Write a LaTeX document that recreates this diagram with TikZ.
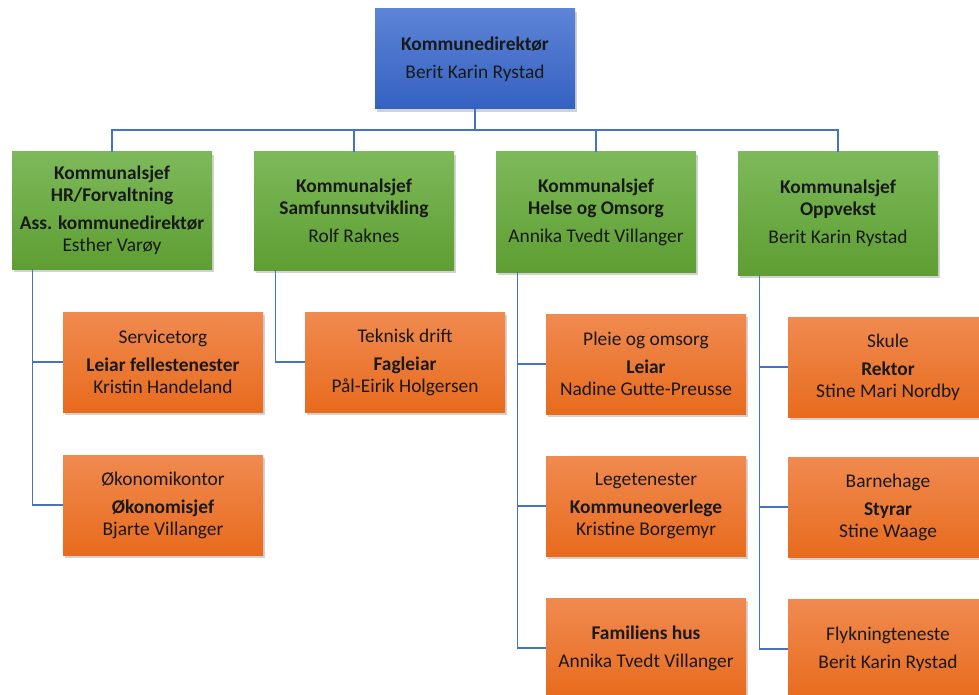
\documentclass[tikz,border=0pt]{standalone}
\usepackage{fontspec}
\setmainfont{Carlito}
\usetikzlibrary{shadows}
\definecolor{conncol}{HTML}{4472C4}
\definecolor{bluetop}{HTML}{5D84D6}
\definecolor{bluebot}{HTML}{3461C1}
\definecolor{greentop}{HTML}{7DB95A}
\definecolor{greenbot}{HTML}{5E9E32}
\definecolor{orangetop}{HTML}{F08A50}
\definecolor{orangebot}{HTML}{E86B1D}
\tikzset{
  box/.style={rectangle, minimum width=200pt, inner sep=0pt, align=center,
    font=\fontsize{19.4}{22}\selectfont, text=black!90,
    drop shadow={opacity=0.35, shadow xshift=2pt, shadow yshift=-3pt}},
  bluebox/.style={box, top color=bluetop, bottom color=bluebot, minimum height=100pt},
  greenbox/.style={box, top color=greentop, bottom color=greenbot},
  orangebox/.style={box, top color=orangetop, bottom color=orangebot, minimum height=100pt},
  conn/.style={draw=conncol, line width=1.3pt}
}
\begin{document}
\begin{tikzpicture}[x=1pt,y=-1pt]
\useasboundingbox (0,0) rectangle (979,695);
\clip (0,0) rectangle (979,695);
\fill[white] (0,0) rectangle (979,695);

% top
\node[bluebox] (top) at (475,59) {\textbf{Kommunedirektør}\\[6pt]Berit Karin Rystad};

% green
\node[greenbox, minimum height=117pt] (g1) at (112,210.5) {\textbf{Kommunalsjef}\\\textbf{HR/Forvaltning}\\[6pt]\textbf{Ass. kommunedirektør}\\Esther Varøy};
\node[greenbox, minimum height=118pt] (g2) at (354,211) {\textbf{Kommunalsjef}\\\textbf{Samfunnsutvikling}\\[6pt]Rolf Raknes};
\node[greenbox, minimum height=120pt] (g3) at (596,212) {\textbf{Kommunalsjef}\\\textbf{Helse og Omsorg}\\[6pt]Annika Tvedt Villanger};
\node[greenbox, minimum height=123pt] (g4) at (838,213.5) {\textbf{Kommunalsjef}\\\textbf{Oppvekst}\\[6pt]Berit Karin Rystad};

% orange col 1
\node[orangebox] (o11) at (163,362) {Servicetorg\\[6pt]\textbf{Leiar fellestenester}\\Kristin Handeland};
\node[orangebox] (o12) at (163,505) {Økonomikontor\\[6pt]\textbf{Økonomisjef}\\Bjarte Villanger};
% col 2
\node[orangebox] (o21) at (405,362) {Teknisk drift\\[6pt]\textbf{Fagleiar}\\Pål-Eirik Holgersen};
% col 3
\node[orangebox] (o31) at (646,364) {Pleie og omsorg\\[6pt]\textbf{Leiar}\\Nadine Gutte-Preusse};
\node[orangebox] (o32) at (646,506) {Legetenester\\[6pt]\textbf{Kommuneoverlege}\\Kristine Borgemyr};
\node[orangebox] (o33) at (646,648) {\textbf{Familiens hus}\\[6pt]Annika Tvedt Villanger};
% col 4
\node[orangebox] (o41) at (888,367) {Skule\\[6pt]\textbf{Rektor}\\Stine Mari Nordby};
\node[orangebox] (o42) at (888,507) {Barnehage\\[6pt]\textbf{Styrar}\\Stine Waage};
\node[orangebox] (o43) at (888,649) {Flykningteneste\\[6pt]Berit Karin Rystad};

% connectors
\coordinate (bus) at (475,130);
\draw[conn] (top.south) -- (bus);
\draw[conn] (g1.north) |- (bus);
\draw[conn] (g2.north) |- (bus);
\draw[conn] (g3.north) |- (bus);
\draw[conn] (g4.north) |- (bus);

\draw[conn] ([xshift=21pt]g1.south west) |- (o11.west);
\draw[conn] ([xshift=21pt]g1.south west) |- (o12.west);
\draw[conn] ([xshift=22pt]g2.south west) |- (o21.west);
\draw[conn] ([xshift=22pt]g3.south west) |- (o31.west);
\draw[conn] ([xshift=22pt]g3.south west) |- (o32.west);
\draw[conn] ([xshift=22pt]g3.south west) |- (o33.west);
\draw[conn] ([xshift=22pt]g4.south west) |- (o41.west);
\draw[conn] ([xshift=22pt]g4.south west) |- (o42.west);
\draw[conn] ([xshift=22pt]g4.south west) |- (o43.west);
\end{tikzpicture}
\end{document}
